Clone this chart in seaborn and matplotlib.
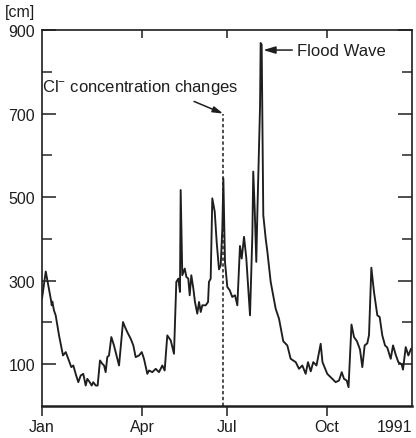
import matplotlib
matplotlib.use("Agg")
import matplotlib.pyplot as plt
import seaborn as sns
import pandas as pd

# ---- data ----
days = [0.0, 3.7, 6.2, 8.6, 9.6, 10.2, 11.8, 13.5, 16.8, 20.7, 23.4, 25.9, 28.9, 30.9, 33.2,
        35.8, 38.2, 40.7, 43.1, 44.7, 47.1, 49.0, 50.6, 53.0, 54.9, 57.2, 59.5, 61.2, 62.8,
        64.4, 66.1, 68.4, 71.0, 72.7, 76.0, 79.9, 81.9, 84.1, 87.5, 90.1, 92.4, 95.7, 98.4,
        100.6, 103.9, 105.6, 108.8, 112.2, 115.4, 118.7, 121.0, 123.6, 127.0, 130.2, 132.5,
        134.5, 136.1, 136.8, 138.4, 140.8, 142.4, 144.3, 145.7, 147.3, 149.3, 150.9, 153.2,
        154.9, 156.6, 158.1, 161.5, 163.8, 164.7, 166.4, 168.0, 170.4, 172.3, 174.6, 176.3,
        177.9, 178.9, 180.5, 182.8, 185.2, 187.7, 190.4, 192.7, 195.3, 197.0, 199.3, 201.5,
        205.2, 207.5, 208.4, 209.8, 211.4, 212.4, 215.1, 215.7, 216.7, 218.3, 220.7, 222.3,
        225.6, 230.5, 233.8, 238.0, 242.0, 245.3, 250.3, 253.5, 256.8, 260.1, 262.4, 265.1,
        267.6, 270.8, 274.9, 276.7, 281.4, 286.4, 289.7, 293.0, 295.7, 297.9, 300.6, 302.4,
        305.3, 307.8, 310.7, 313.7, 316.0, 318.3, 320.9, 322.6, 324.9, 327.5, 330.8, 333.1,
        335.7, 338.4, 340.6, 344.0, 346.3, 348.9, 351.5, 354.8, 356.1, 358.8, 361.4, 364.0]
water_level = [257, 322, 289, 257, 241, 250, 229, 217, 169, 121, 129, 113, 93, 97, 77,
               57, 73, 77, 49, 65, 57, 49, 57, 49, 49, 109, 101, 97, 81,
               117, 121, 165, 145, 129, 97, 201, 189, 177, 161, 145, 117, 121, 129,
               113, 77, 85, 81, 89, 81, 97, 85, 169, 157, 125, 297,
               305, 273, 517, 313, 329, 309, 305, 265, 313, 281, 249, 221,
               249, 225, 241, 241, 249, 297, 305, 497, 465, 393, 327, 337,
               425, 545, 345, 285, 277, 261, 265, 241, 383, 353, 405, 355,
               217, 409, 561, 473, 345, 457, 718, 869, 865, 457, 400, 370,
               297, 233, 209, 155, 145, 113, 105, 89, 97, 77, 105, 83,
               105, 97, 149, 105, 77, 65, 57, 61, 81, 65, 61, 45,
               195, 165, 155, 135, 93, 145, 150, 170, 331, 273, 217, 213,
               169, 145, 140, 113, 145, 123, 105, 100, 87, 141, 121, 137]

month_labels = ["Jan", "Apr", "Jul", "Oct", "1991"]
month_pos = [0, 98.6, 182.5, 281.1, 365]
y_major = [100, 300, 500, 700, 900]
y_minor = [200, 400, 600, 800]

cl_change_day = 178.6
cl_change_top = 700
flood_label = "Flood Wave"
cl_label = r"Cl$^{-}$ concentration changes"

df = pd.DataFrame({"day": days, "level": water_level})

# ---- style ----
sns.set_style("ticks")
plt.rcParams["font.family"] = ["Liberation Sans", "DejaVu Sans"]
plt.rcParams["mathtext.fontset"] = "custom"
plt.rcParams["mathtext.rm"] = "Liberation Sans"
plt.rcParams["mathtext.it"] = "Liberation Sans"
plt.rcParams["mathtext.default"] = "regular"

ink = "#1e1e1e"
fig = plt.figure(figsize=(4.16, 4.39), dpi=100)
ax = fig.add_axes([42 / 416, 1 - 407 / 439, 370 / 416, 376 / 439])

sns.lineplot(data=df, x="day", y="level", ax=ax, color=ink, linewidth=1.35,
             estimator=None, sort=False)

ax.set_xlim(0, 365)
ax.set_ylim(0, 900)
ax.set_xlabel("")
ax.set_ylabel("")

# y axis ticks (inward, both sides)
ax.set_yticks(y_major)
ax.set_yticks(y_minor, minor=True)
ax.tick_params(axis="y", which="major", direction="in", length=10, width=1.1,
               left=True, right=True, labelsize=11.5, pad=5, colors=ink)
ax.tick_params(axis="y", which="minor", direction="in", length=7.5, width=1.1,
               left=True, right=True)

# x axis ticks (outward at the bottom)
ax.set_xticks(month_pos)
ax.set_xticklabels(month_labels)
ax.tick_params(axis="x", which="major", direction="out", length=7, width=1.1,
               labelsize=11.5, pad=2.5, colors=ink)
ax.xaxis.get_major_ticks()[-1].tick1line.set_visible(False)
lbls = ax.get_xticklabels()
lbls[-1].set_horizontalalignment("right")

# top ticks (inward)
sec = ax.secondary_xaxis("top")
sec.set_xticks(month_pos[1:-1])
sec.tick_params(axis="x", direction="in", length=6, width=1.1, labeltop=False,
                color=ink)
sec.spines["top"].set_visible(False)

for side in ["left", "right", "top"]:
    ax.spines[side].set_visible(True)
    ax.spines[side].set_linewidth(1.2)
    ax.spines[side].set_color(ink)
ax.spines["bottom"].set_linewidth(1.8)
ax.spines["bottom"].set_color(ink)

# Cl- change marker
ax.vlines(cl_change_day, 0, cl_change_top, colors=ink, linewidth=1.1,
          linestyles=(0, (2.2, 1.6)))
ax.text(96.5, 764, cl_label, ha="center", va="center", fontsize=12, color=ink)
ax.annotate("", xy=(cl_change_day, cl_change_top), xytext=(150, 729),
            arrowprops=dict(arrowstyle="-|>,head_length=0.6,head_width=0.18",
                            color=ink, lw=1.1, shrinkA=0, shrinkB=0))

# Flood wave marker
ax.annotate(flood_label, xy=(218.3, 852), xytext=(251.5, 852),
            ha="left", va="center", fontsize=12, color=ink,
            arrowprops=dict(arrowstyle="-|>,head_length=0.6,head_width=0.18",
                            color=ink, lw=1.1, shrinkA=1, shrinkB=0,
                            relpos=(0.0, 0.5)))

fig.text(5 / 416, 1 - 13 / 439, "[cm]", ha="left", va="center",
         fontsize=11.5, color=ink)

fig.savefig("out.png", dpi=100, facecolor="white")
